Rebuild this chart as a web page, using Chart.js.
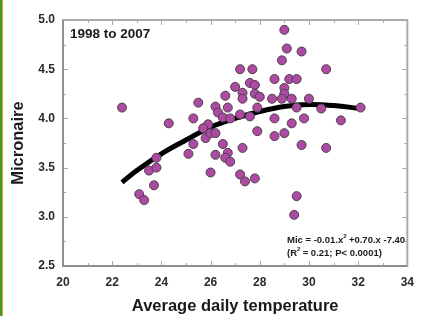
<!DOCTYPE html>
<html>
<head>
<meta charset="utf-8">
<script src="https://cdn.jsdelivr.net/npm/chart.js@4/dist/chart.umd.min.js"></script>
<style>
  html, body { margin: 0; padding: 0; background: #ffffff; }
  #wrap { position: relative; width: 423px; height: 316px; }
  #edgeGreen { position: absolute; left: 0; top: 0; width: 2px; height: 316px; background: #3f9a2e; }
  #edgeOrange { position: absolute; left: 2px; top: 0; width: 1px; height: 316px; background: #e2a31f; }
</style>
</head>
<body>
<div id="wrap">
  <canvas id="chart" width="423" height="316"></canvas>
  <div id="edgeGreen"></div>
  <div id="edgeOrange"></div>
</div>
<script>
// Micronaire vs average daily temperature, 1998 to 2007
// values

const tempValues = [
  22.4, 24.3, 25.3, 25.5, 25.3, 25.1, 25.8, 25.9, 25.7, 26.0,
  26.2, 26.2, 26.3, 26.5, 26.7, 26.8, 27.2, 27.6, 27.9, 28.6,
  29.3, 27.9, 28.6, 29.0, 26.5, 27.3, 26.2, 26.7, 26.6, 26.8,
  26.0, 27.2, 27.4, 27.8, 29.0, 29.1, 29.7, 28.9, 27.2, 27.7,
  30.7, 28.6, 29.2, 29.5, 27.6, 27.8, 27.0, 29.0, 29.0, 26.6,
  27.3, 27.3, 27.8, 28.0, 28.5, 28.9, 29.3, 30.0, 29.5, 30.5,
  32.1, 29.8, 31.3, 29.7, 30.7, 29.5, 29.4, 23.8, 23.5, 23.8,
  23.7, 23.1, 23.3
];
const micValues = [
  4.11, 3.95, 4.00, 4.16, 3.74, 3.64, 3.80, 3.94, 3.90, 3.85,
  3.85, 4.12, 4.06, 4.01, 4.11, 4.00, 4.04, 4.02, 4.11, 4.00,
  3.95, 3.87, 3.82, 3.85, 3.74, 3.70, 3.63, 3.65, 3.60, 3.56,
  3.45, 3.43, 3.36, 3.39, 4.90, 4.71, 4.68, 4.59, 4.50, 4.50,
  4.50, 4.40, 4.40, 4.40, 4.36, 4.34, 4.32, 4.31, 4.25, 4.23,
  4.26, 4.20, 4.25, 4.22, 4.20, 4.20, 4.20, 4.20, 4.11, 4.10,
  4.11, 4.00, 3.98, 3.73, 3.70, 3.21, 3.02, 3.60, 3.47, 3.50,
  3.32, 3.23, 3.17
];

// fitted curve
const fitX = [22.4, 23, 24, 25, 26, 27, 28, 29, 30, 31, 32.1];
const fitY = [3.35, 3.47, 3.64, 3.78, 3.91, 4.00, 4.07, 4.12, 4.14, 4.13, 4.10];

const xTickLabels = [20, 22, 24, 26, 28, 30, 32, 34];
const yTickLabels = [2.5, 3.0, 3.5, 4.0, 4.5, 5.0];

const boldFont = "'Liberation Sans', Arial, sans-serif";

const scatterPoints = tempValues.map((t, i) => ({ x: t, y: micValues[i] }));
const fitPoints = fitX.map((t, i) => ({ x: t, y: fitY[i] }));

// frame with inward tick marks on all four sides
const framePlugin = {
  id: "frame",
  afterDatasetsDraw(chart) {
    const ctx = chart.ctx;
    const a = chart.chartArea;
    const xs = chart.scales.x;
    const ys = chart.scales.y;
    ctx.save();
    ctx.strokeStyle = "#a8a8a8";
    ctx.lineWidth = 1;
    for (let v = 21; v < 34; v++) {
      const px = Math.round(xs.getPixelForValue(v)) + 0.5;
      const len = v % 2 === 0 ? 5 : 3;
      ctx.beginPath();
      ctx.moveTo(px, a.bottom); ctx.lineTo(px, a.bottom - len);
      ctx.moveTo(px, a.top); ctx.lineTo(px, a.top + len);
      ctx.stroke();
    }
    for (let v = 2.75; v < 5; v += 0.25) {
      const py = Math.round(ys.getPixelForValue(v)) + 0.5;
      const len = Math.abs(v * 2 - Math.round(v * 2)) < 0.01 ? 5 : 3;
      ctx.beginPath();
      ctx.moveTo(a.left, py); ctx.lineTo(a.left + len, py);
      ctx.moveTo(a.right, py); ctx.lineTo(a.right - len, py);
      ctx.stroke();
    }
    ctx.lineWidth = 2;
    ctx.strokeStyle = "#ababab";
    ctx.strokeRect(a.left, a.top, a.right - a.left, a.bottom - a.top);
    ctx.strokeStyle = "#8e8e8e";
    ctx.beginPath();
    ctx.moveTo(a.left, a.top); ctx.lineTo(a.left, a.bottom); ctx.lineTo(a.right, a.bottom);
    ctx.stroke();

    // annotations
    ctx.fillStyle = "#1a1a1a";
    ctx.font = "bold 13.5px " + boldFont;
    ctx.textBaseline = "middle";
    ctx.fillText("1998 to 2007", a.left + 7, a.top + 14);

    ctx.font = "bold 9.5px " + boldFont;
    ctx.fillText("Mic = -0.01.x", 287, 240);
    let w = ctx.measureText("Mic = -0.01.x").width;
    ctx.font = "bold 6px " + boldFont;
    ctx.fillText("2", 287 + w, 236);
    ctx.font = "bold 9.5px " + boldFont;
    ctx.fillText(" +0.70.x -7.40", 290 + w, 240);

    ctx.fillText("(R", 287, 253);
    w = ctx.measureText("(R").width;
    ctx.font = "bold 6px " + boldFont;
    ctx.fillText("2", 287 + w, 249);
    ctx.font = "bold 9.5px " + boldFont;
    ctx.fillText(" = 0.21; P< 0.0001)", 290 + w, 253);
    ctx.restore();
  }
};

new Chart(document.getElementById("chart").getContext("2d"), {
  type: "scatter",
  data: {
    datasets: [
      {
        label: "Fit",
        type: "line",
        data: fitPoints,
        borderColor: "#000000",
        borderWidth: 5,
        pointRadius: 0,
        tension: 0.4,
        fill: false,
        order: 2
      },
      {
        label: "Micronaire",
        data: scatterPoints,
        backgroundColor: "#ad4aa2",
        borderColor: "#4e3d4c",
        borderWidth: 1,
        pointRadius: 4.5,
        order: 1
      }
    ]
  },
  options: {
    responsive: false,
    animation: false,
    layout: { padding: { left: 4, right: 9, top: 20, bottom: 0 } },
    plugins: {
      legend: { display: false },
      tooltip: { enabled: false }
    },
    scales: {
      x: {
        type: "linear",
        min: 20,
        max: 34,
        afterBuildTicks: (scale) => { scale.ticks = xTickLabels.map(v => ({ value: v })); },
        afterFit: (scale) => { scale.height = 50; },
        grid: { display: false, drawTicks: false },
        border: { display: false },
        ticks: {
          padding: 9,
          color: "#2a2a2a",
          font: { family: boldFont, size: 12, weight: "bold" }
        },
        title: {
          display: true,
          text: "Average daily temperature",
          color: "#1a1a1a",
          font: { family: boldFont, size: 16.5, weight: "bold" },
          padding: { top: 4, bottom: 0 }
        }
      },
      y: {
        type: "linear",
        min: 2.5,
        max: 5.0,
        afterBuildTicks: (scale) => { scale.ticks = yTickLabels.map(v => ({ value: v })); },
        afterFit: (scale) => { scale.width = 59; },
        grid: { display: false, drawTicks: false },
        border: { display: false },
        ticks: {
          padding: 8,
          color: "#2a2a2a",
          font: { family: boldFont, size: 12, weight: "bold" },
          callback: (v) => Number(v).toFixed(1)
        },
        title: {
          display: true,
          text: "Micronaire",
          color: "#1a1a1a",
          font: { family: boldFont, size: 16.5, weight: "bold" },
          padding: { top: 5, bottom: 0 }
        }
      }
    }
  },
  plugins: [framePlugin]
});
</script>
</body>
</html>
